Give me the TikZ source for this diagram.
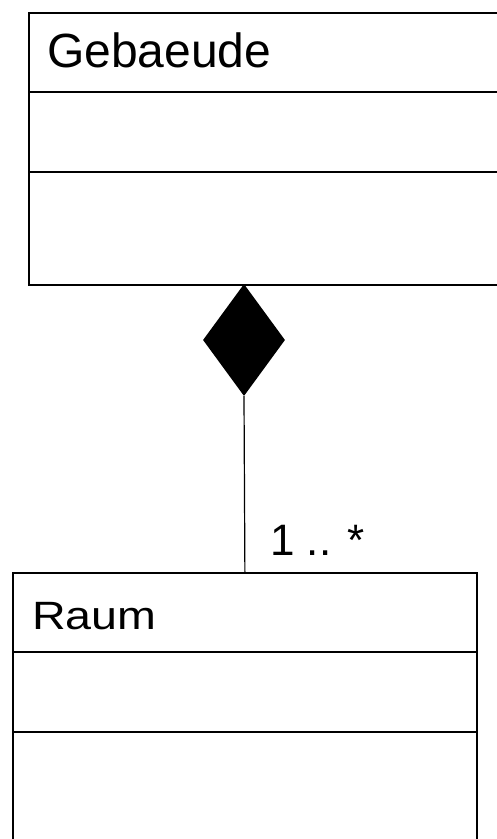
\documentclass[tikz,border=0pt]{standalone}
\usepackage{fontspec}
\setmainfont{Liberation Sans}
\usetikzlibrary{shapes.geometric, positioning}

\begin{document}
\begin{tikzpicture}[
    x=1pt, y=-1pt,
    classbox/.style={rectangle, draw, line width=1.8pt, anchor=north west, inner sep=0pt},
    sep/.style={line width=1.8pt},
    classname/.style={anchor=base west, inner sep=0pt},
    composition/.style={diamond, fill=black, inner sep=0pt, minimum width=82pt, minimum height=112pt}
]
\useasboundingbox (0,0) rectangle (497,839);
\clip (0,0) rectangle (497,839);

% Classes
\node[classbox, minimum width=482pt, minimum height=272pt] (gebaeude) at (28,12) {};
\node[classbox, minimum width=464pt, minimum height=300pt] (raum) at (12,572) {};

% Class names
\node[classname, font=\fontsize{48}{56}\selectfont] (gebaeudename) at (47,67) {Gebaeude};
\node[classname, font=\fontsize{39.5}{46}\selectfont] (raumname) at (32,629) {\scalebox{1.18}[1]{Raum}};

% Compartments
\draw[sep] (gebaeude.west |- 0,92) -- (gebaeude.east |- 0,92);
\draw[sep] (gebaeude.west |- 0,172) -- (gebaeude.east |- 0,172);
\draw[sep] (raum.west |- 0,652) -- (raum.east |- 0,652);
\draw[sep] (raum.west |- 0,732) -- (raum.east |- 0,732);

% Composition
\node[composition] (comp) at (244,340) {};
\draw[line width=1.2pt] (comp.south) -- (raum.north);

% Multiplicity
\node[classname, font=\fontsize{44}{52}\selectfont] (mult) at (270,555) {1 .. *};

\end{tikzpicture}
\end{document}
